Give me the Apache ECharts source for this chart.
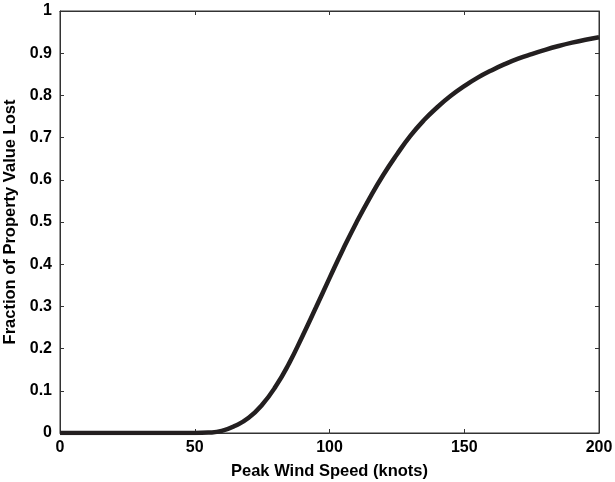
<!DOCTYPE html>
<html>
<head>
    <meta charset="UTF-8">
    <script src="https://cdn.jsdelivr.net/npm/echarts@6/dist/echarts.min.js"></script>
    <style>
        html, body { margin: 0; padding: 0; background: #fff; }
        #main { width: 615px; height: 482px; }
    </style>
</head>
<body>
    <div id="main"></div>
    <script>
        // wind speed (knots) and fraction of value lost
        var windSpeed = [0, 5, 10, 15, 20, 25, 30, 35, 40, 45, 50, 55, 60, 65, 70, 75, 80, 85, 90, 95,
            100, 105, 110, 115, 120, 125, 130, 135, 140, 145, 150, 155, 160, 165, 170, 175, 180, 185, 190, 195, 200];
        var fractionLost = [0, 0, 0, 0, 0, 0, 0, 0, 0, 0, 0, 0.001, 0.005, 0.017, 0.036, 0.067, 0.11, 0.165, 0.23, 0.298,
            0.367, 0.435, 0.499, 0.558, 0.612, 0.66, 0.704, 0.741, 0.772, 0.799, 0.822, 0.842, 0.859, 0.874, 0.887,
            0.898, 0.908, 0.917, 0.925, 0.932, 0.938];

        var font = 'Liberation Sans, Arial, sans-serif';
        var axisColor = '#333';

        var points = windSpeed.map(function (v, i) { return [v, fractionLost[i]]; });

        // mirrored axes on top/right, inward ticks only
        function mirror(pos, min, max, step) {
            return {
                type: 'value', min: min, max: max, interval: step, position: pos,
                axisLine: { show: true, onZero: false, lineStyle: { color: axisColor, width: 1 } },
                axisTick: { show: true, inside: true, length: 4, lineStyle: { color: axisColor } },
                axisLabel: { show: false },
                splitLine: { show: false }
            };
        }

        var myChart = echarts.init(document.getElementById('main'));
        var option = {
            backgroundColor: '#fff',
            animation: false,
            grid: {
                left: 60, right: 16, top: 11, bottom: 49,
                outerBoundsMode: 'none', containLabel: false,
                show: true, borderColor: axisColor, borderWidth: 1, backgroundColor: 'transparent'
            },
            xAxis: [{
                type: 'value', min: 0, max: 200, interval: 50,
                name: 'Peak Wind Speed (knots)',
                nameLocation: 'middle', nameGap: 30,
                nameTextStyle: { fontFamily: font, fontWeight: 'bold', fontSize: 16.5, color: '#000' },
                axisLine: { show: true, onZero: false, lineStyle: { color: axisColor, width: 1 } },
                axisTick: { show: true, inside: true, length: 4, lineStyle: { color: axisColor } },
                axisLabel: { fontFamily: font, fontWeight: 'bold', fontSize: 16, color: '#000', margin: 7 },
                splitLine: { show: false }
            }, mirror('top', 0, 200, 50)],
            yAxis: [{
                type: 'value', min: 0, max: 1, interval: 0.1,
                name: 'Fraction of Property Value Lost',
                nameLocation: 'middle', nameGap: 37,
                nameTextStyle: { fontFamily: font, fontWeight: 'bold', fontSize: 16.5, color: '#000' },
                axisLine: { show: true, onZero: false, lineStyle: { color: axisColor, width: 1 } },
                axisTick: { show: true, inside: true, length: 4, lineStyle: { color: axisColor } },
                axisLabel: { fontFamily: font, fontWeight: 'bold', fontSize: 16, color: '#000', margin: 8 },
                splitLine: { show: false }
            }, mirror('right', 0, 1, 0.1)],
            series: [{
                type: 'line',
                data: points,
                smooth: true,
                showSymbol: false,
                lineStyle: { color: '#231f20', width: 4.5 }
            }, {
                // empty series so the mirrored axes get drawn
                type: 'line', xAxisIndex: 1, yAxisIndex: 1, data: [], showSymbol: false
            }]
        };
        myChart.setOption(option);
    </script>
</body>
</html>
